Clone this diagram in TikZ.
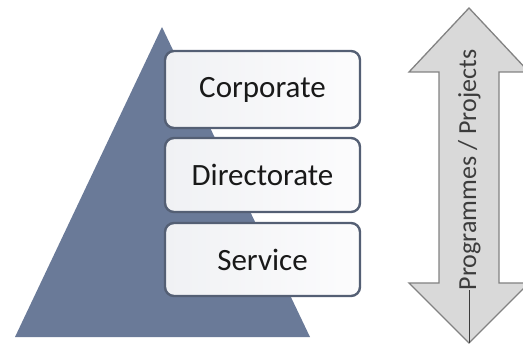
\documentclass[tikz,border=0pt]{standalone}
\usepackage{fontspec}
\setmainfont{Carlito}
\definecolor{pyr}{RGB}{106,122,152}
\definecolor{boxline}{RGB}{84,95,116}
\definecolor{boxl}{RGB}{240,241,244}
\definecolor{boxr}{RGB}{252,252,253}
\definecolor{arrfill}{RGB}{217,217,217}
\definecolor{arrline}{RGB}{130,130,130}
\definecolor{txt}{RGB}{25,25,25}
\definecolor{atxt}{RGB}{60,60,60}
\begin{document}
\begin{tikzpicture}[x=1pt,y=1pt,
  levelbox/.style={draw=boxline, line width=2.4pt, rounded corners=9pt,
    left color=boxl, right color=boxr, minimum width=195pt,
    text=txt, font=\fontsize{31}{31}\selectfont, inner sep=0pt},
  arrowshape/.style={fill=arrfill, draw=arrline, line width=1.3pt, line join=miter},
  arrowtext/.style={rotate=90, anchor=base, inner sep=0pt, text=atxt,
    font=\fontsize{26}{26}\selectfont}]
\useasboundingbox (0,0) rectangle (523,346);
% pyramid
\fill[pyr] (162,319) -- (310,9) -- (15,9) -- cycle;
% level boxes
\node[levelbox, minimum height=77pt] (corp) at (262.5,256.5) {Corporate};
\node[levelbox, minimum height=74pt] (dir) at (262.5,171) {Directorate};
\node[levelbox, minimum height=73pt] (serv) at (262.5,86.5) {Service};
% double arrow
\coordinate (tt) at (469,338);
\coordinate (bt) at (469,3);
\draw[arrowshape] (tt) -- (529,274) -- (499,274) -- (499,63) -- (529,63)
  -- (bt) -- (409,63) -- (439,63) -- (439,274) -- (409,274) -- cycle;
\node[arrowtext] (pp) at (476,176) {Programmes / Projects};
\draw[atxt, line width=0.9pt] (pp.west) -- (pp.west |- bt);
\end{tikzpicture}
\end{document}
